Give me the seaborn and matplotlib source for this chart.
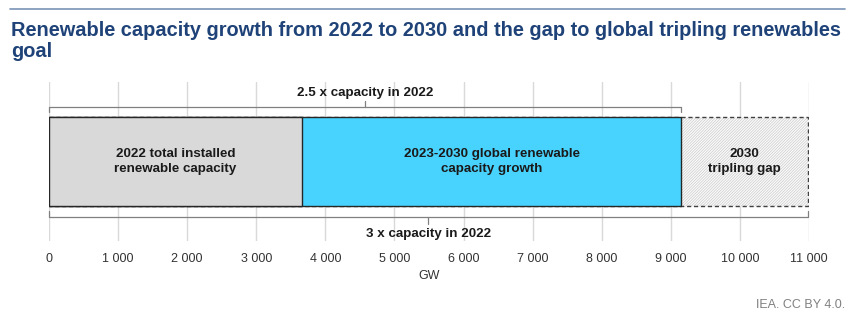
import matplotlib
matplotlib.use("Agg")
import matplotlib.pyplot as plt
import matplotlib.colors as mcolors
import seaborn as sns
import pandas as pd

# ---- data ----
segments = ["2022 total installed\nrenewable capacity",
            "2023-2030 global renewable\ncapacity growth",
            "2030\ntripling gap"]
values = [3660, 5490, 1830]          # GW
colors = ["#D9D9D9", "#48D3FF", "#FAFAFA"]
xticks = [0, 1000, 2000, 3000, 4000, 5000, 6000, 7000, 8000, 9000, 10000, 11000]
xtick_labels = ["0", "1 000", "2 000", "3 000", "4 000", "5 000", "6 000",
                "7 000", "8 000", "9 000", "10 000", "11 000"]
bracket_top_label = "2.5 x capacity in 2022"
bracket_bottom_label = "3 x capacity in 2022"
title = "Renewable capacity growth from 2022 to 2030 and the gap to global tripling renewables\ngoal"

sns.set_style("white")
plt.rcParams["font.family"] = ["Liberation Sans", "DejaVu Sans"]
plt.rcParams["hatch.linewidth"] = 0.5

W, H = 856, 322
fig = plt.figure(figsize=(W / 100, H / 100), dpi=100)
ax = fig.add_axes([49 / W, 1 - 241 / H, (809 - 49) / W, (241 - 82) / H])

# cumulative totals, drawn largest first so they stack visually
cum = []
s = 0
for v in values:
    s += v
    cum.append(s)

for i in reversed(range(len(values))):
    df = pd.DataFrame({"cat": ["a"], "val": [cum[i]]})
    sns.barplot(data=df, x="val", y="cat", orient="h", color=colors[i],
                width=0.8, ax=ax, saturation=1)

# style patches: patches were added in order gap, growth, base
pats = ax.patches
gap, growth, base = pats[0], pats[1], pats[2]
for p in (base, growth):
    p.set_edgecolor("#262626")
    p.set_linewidth(1.0)
gap.set_facecolor(colors[2])
gap.set_edgecolor("#404040")
gap.set_linestyle((0, (3, 2)))
gap.set_linewidth(1.0)
gap.set_hatch("////////////")
gap._hatch_color = mcolors.to_rgba("#CCCCCC")

ax.set_ylim(0.7067, -0.7067)
ax.set_xlim(0, 11000)

# segment labels
starts = [0] + cum[:-1]
for lab, st, v in zip(segments, starts, values):
    ax.text(st + v / 2, 0.0, lab, ha="center", va="center", fontsize=9.6,
            fontweight="bold", color="#1a1a1a", linespacing=1.25, zorder=10)

# brackets
bc = "#808080"
def bracket(x0, x1, y, yend, ytick, lab, ylab, va):
    xm = (x0 + x1) / 2
    ax.plot([x0, x0, x1, x1], [yend, y, y, yend], color=bc, lw=0.9,
            solid_joinstyle="round", clip_on=False)
    ax.plot([xm, xm], [y, ytick], color=bc, lw=0.9, clip_on=False)
    ax.text(xm, ylab, lab, ha="center", va=va, fontsize=9.6,
            fontweight="bold", color="#1a1a1a")

bracket(0, cum[1], -0.484, -0.44, -0.538, bracket_top_label, -0.609, "center")
bracket(0, cum[2], 0.493, 0.44, 0.556, bracket_bottom_label, 0.644, "center")

# axes styling
ax.set_xticks(xticks)
ax.set_xticklabels(xtick_labels)
ax.tick_params(axis="x", length=0, pad=9, labelsize=9, labelcolor="#333333")
ax.set_yticks([])
ax.set_ylabel("")
ax.set_xlabel("GW", fontsize=9, color="#333333", labelpad=3)
ax.grid(axis="x", color="#D9D9D9", lw=1)
ax.set_axisbelow(True)
for sp in ax.spines.values():
    sp.set_visible(False)

# title and rule
fig.add_artist(plt.Line2D([10 / W, 845 / W], [1 - 9 / H, 1 - 9 / H],
                          color="#7A93B5", lw=1.2))
fig.text(11 / W, 1 - 41 / H, title, ha="left", va="center", fontsize=14.4,
         fontweight="bold", color="#1F4378", linespacing=1.12)
fig.text(845 / W, 1 - 305 / H, "IEA. CC BY 4.0.", ha="right", va="center",
         fontsize=9, color="#808080")

fig.savefig("out.png", dpi=100)
